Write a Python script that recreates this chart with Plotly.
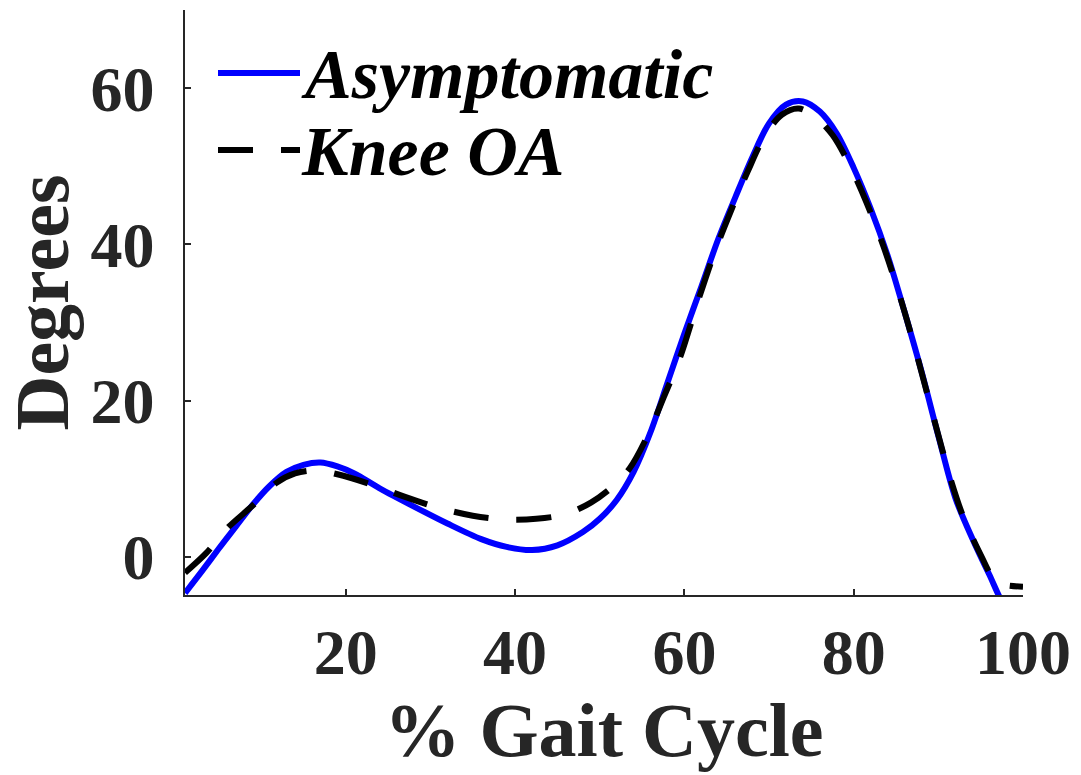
import plotly.graph_objects as go

# % gait cycle sample positions and knee angles (degrees)
asym_x = [1, 3, 5, 7, 9, 11, 13, 15, 17, 19, 21, 24, 28, 32, 36, 39, 42, 45, 48, 50,
          52, 54, 56, 58, 60, 62, 64, 66, 68, 70, 72, 74, 76, 78, 80, 82, 84, 86, 88,
          90, 92, 94, 96, 98, 100]
asym_y = [-4.6, -1.8, 1.1, 3.9, 6.7, 9.1, 10.9, 11.8, 12.1, 11.6, 10.7, 8.8, 6.5, 4.3,
          2.3, 1.3, 0.9, 1.5, 3.2, 4.9, 7.3, 10.9, 16.0, 22.3, 28.6, 34.6, 40.7, 46.0,
          51.1, 55.5, 57.9, 58.3, 57.0, 54.2, 49.8, 44.6, 38.6, 31.4, 23.8, 15.5, 7.6,
          2.4, -2.2, -6.5, -8.0]

oa_x = [1, 3.5, 6, 9, 11.8, 14, 16.5, 19, 23, 27, 31, 35, 39, 42.5, 46, 49, 51.5, 53.5,
        55.5, 57.5, 59.5, 61.5, 63.5, 65.5, 67.5, 69.5, 71.5, 73.5, 75.5, 77.5, 79.5,
        81.5, 83.5, 85.5, 87.5, 89.5, 91.5, 93, 95, 96.8, 98, 100]
oa_y = [-2.0, 0.5, 3.7, 6.6, 9.5, 10.7, 11.1, 10.6, 9.3, 7.7, 6.3, 5.3, 4.8, 4.9, 5.5,
        7.0, 9.0, 11.3, 15.2, 20.3, 25.6, 32.4, 38.8, 44.3, 49.4, 53.9, 56.6, 57.4,
        56.3, 54.0, 50.2, 45.4, 39.8, 33.2, 25.7, 17.6, 9.8, 5.0, 0.3, -3.2, -3.6, -3.8]

series_names = ["Asymptomatic", "Knee OA"]
x_ticks = [20, 40, 60, 80, 100]
y_ticks = [0, 20, 40, 60]

TXT = "#262626"
FONT = "Liberation Serif, Times New Roman, serif"
OA_DASH = "35px,28px"

fig = go.Figure()
fig.add_trace(go.Scatter(x=asym_x, y=asym_y, mode="lines", name=series_names[0],
                         line=dict(color="#0000ff", width=6, shape="spline", smoothing=0.9),
                         showlegend=False))
fig.add_trace(go.Scatter(x=oa_x, y=oa_y, mode="lines", name=series_names[1],
                         line=dict(color="#000000", width=6, shape="spline", smoothing=0.9,
                                   dash=OA_DASH),
                         showlegend=False))

# manual legend (long line samples like the original)
W, H = 838.0, 585.0
def px(xp):
    return (xp - 185) / W
def py(yp):
    return (595 - yp) / H

legend_rows = [(73, "#0000ff", "solid", series_names[0]),
               (150, "#000000", OA_DASH, series_names[1])]
for yp, col, dash, label in legend_rows:
    fig.add_shape(type="line", xref="paper", yref="paper",
                  x0=px(218), x1=px(300), y0=py(yp), y1=py(yp),
                  line=dict(color=col, width=6, dash=dash))
    fig.add_annotation(xref="paper", yref="paper", x=px(299), y=py(yp + 1),
                       xanchor="left", yanchor="middle", showarrow=False,
                       text="<b><i>%s</i></b>" % label,
                       font=dict(family=FONT, size=70, color="#000000"))

axis_common = dict(showline=True, linecolor=TXT, linewidth=1.5, ticks="inside",
                   ticklen=6, tickwidth=1.5, tickcolor=TXT, showgrid=False, zeroline=False,
                   mirror=False)

fig.update_layout(
    width=1081, height=775,
    margin=dict(l=185, r=58, t=10, b=180),
    paper_bgcolor="white", plot_bgcolor="white",
    xaxis=dict(range=[1, 100], tickvals=x_ticks, ticktext=[str(v) for v in x_ticks],
               tickfont=dict(family=FONT, size=64, color=TXT, weight="bold"),
               title=dict(text="<b>% Gait Cycle</b>", font=dict(family=FONT, size=76, color=TXT),
                          standoff=10),
               ticklabelstandoff=0, **axis_common),
    yaxis=dict(range=[-4.85, 70], tickvals=y_ticks, ticktext=[str(v) for v in y_ticks],
               tickfont=dict(family=FONT, size=64, color=TXT, weight="bold"),
               title=dict(text="<b>Degrees</b>", font=dict(family=FONT, size=76, color=TXT),
                          standoff=12),
               ticklabelstandoff=16, **axis_common),
)

fig.write_html("out.html")
